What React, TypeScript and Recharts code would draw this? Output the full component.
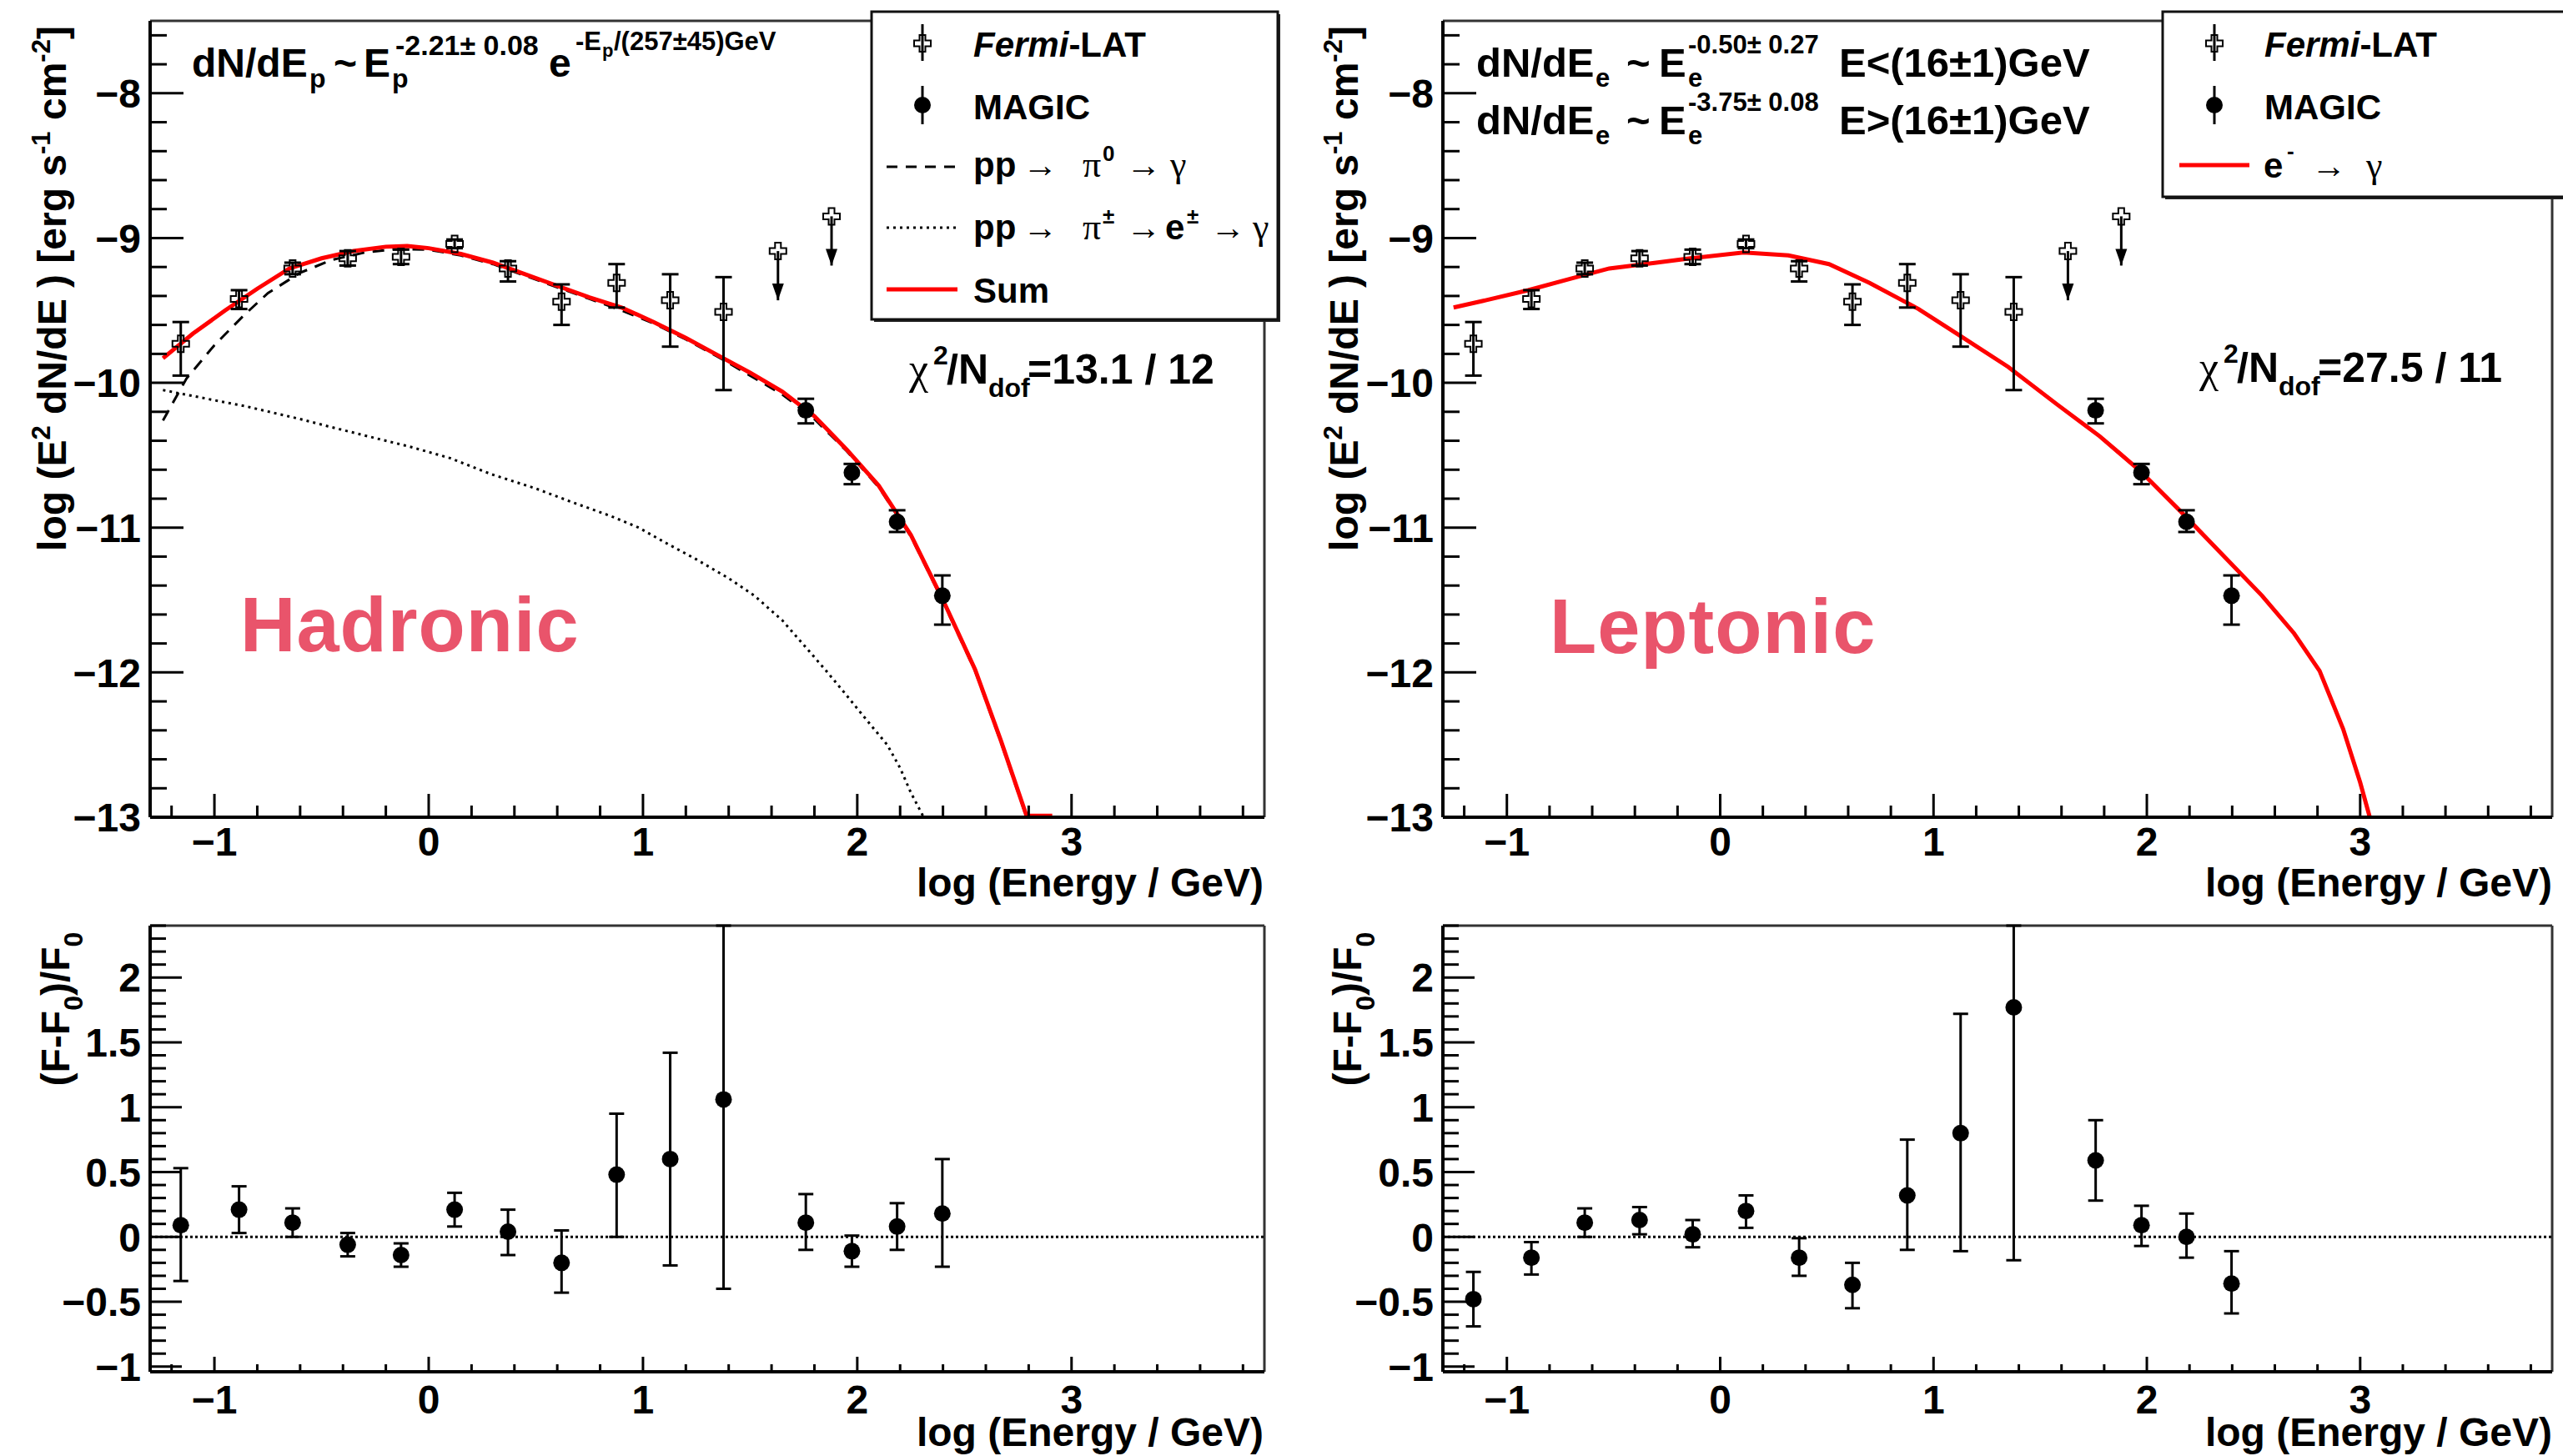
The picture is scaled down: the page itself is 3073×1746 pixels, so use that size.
import React from "react";
import { ComposedChart, Line, Scatter, XAxis, YAxis, ErrorBar, ReferenceLine } from "recharts";

const FONT = "'Liberation Sans', Arial, Helvetica, sans-serif";
const SYM = "'Liberation Serif', 'DejaVu Serif', serif";
const HL = "#e9546b";

// axis ticks
const X_TICKS = [-1.2, -1, -0.8, -0.6, -0.4, -0.2, 0, 0.2, 0.4, 0.6, 0.8, 1, 1.2, 1.4, 1.6, 1.8, 2, 2.2, 2.4, 2.6, 2.8, 3, 3.2, 3.4, 3.6, 3.8];
const SED_Y_TICKS = [-13, -12.8, -12.6, -12.4, -12.2, -12, -11.8, -11.6, -11.4, -11.2, -11, -10.8, -10.6, -10.4, -10.2, -10, -9.8, -9.6, -9.4, -9.2, -9, -8.8, -8.6, -8.4, -8.2, -8, -7.8, -7.6];
const RES_Y_TICKS = [-1, -0.9, -0.8, -0.7, -0.6, -0.5, -0.4, -0.3, -0.2, -0.1, 0, 0.1, 0.2, 0.3, 0.4, 0.5, 0.6, 0.7, 0.8, 0.9, 1, 1.1, 1.2, 1.3, 1.4, 1.5, 1.6, 1.7, 1.8, 1.9, 2, 2.1, 2.2, 2.3, 2.4];

// Fermi-LAT points (log E, log E2dN/dE, err down, err up)
const FERMI_X = [-1.157, -0.885, -0.635, -0.378, -0.129, 0.121, 0.37, 0.62, 0.877, 1.127, 1.376];
const FERMI_Y = [-9.73, -9.42, -9.21, -9.14, -9.13, -9.04, -9.21, -9.44, -9.31, -9.43, -9.51];
const FERMI_LO = [0.22, 0.07, 0.04, 0.05, 0.05, 0.03, 0.09, 0.16, 0.17, 0.32, 0.54];
const FERMI_HI = [0.15, 0.06, 0.04, 0.05, 0.05, 0.03, 0.05, 0.12, 0.13, 0.18, 0.24];

// Fermi-LAT upper limits
const UL_X = [1.63, 1.88];
const UL_Y = [-9.09, -8.85];
const UL_LEN = [0.34, 0.34];

// MAGIC points
const MAGIC_X = [1.76, 1.975, 2.186, 2.397];
const MAGIC_Y = [-10.19, -10.62, -10.96, -11.47];
const MAGIC_LO = [0.09, 0.08, 0.07, 0.2];
const MAGIC_HI = [0.08, 0.06, 0.08, 0.14];

// model curves
const SUM_HADRONIC = [
  [-1.24, -9.83], [-1.1, -9.66], [-0.95, -9.5], [-0.8, -9.35], [-0.65, -9.21], [-0.5, -9.14], [-0.35, -9.09],
  [-0.2, -9.06], [-0.1, -9.055], [0.0, -9.07], [0.15, -9.11], [0.3, -9.17], [0.45, -9.25], [0.6, -9.33],
  [0.75, -9.41], [0.9, -9.48], [1.05, -9.58], [1.2, -9.69], [1.35, -9.81], [1.5, -9.93], [1.65, -10.06],
  [1.8, -10.23], [1.95, -10.46], [2.1, -10.71], [2.25, -11.05], [2.4, -11.5], [2.55, -11.98], [2.67, -12.47],
  [2.79, -12.99], [2.91, -12.99],
];
const PI0_HADRONIC = [
  [-1.24, -10.26], [-1.13, -9.97], [-1.0, -9.74], [-0.86, -9.53], [-0.75, -9.38], [-0.6, -9.24], [-0.45, -9.15],
  [-0.3, -9.1], [-0.15, -9.075], [0.0, -9.08], [0.15, -9.12], [0.3, -9.18], [0.45, -9.26], [0.6, -9.34],
  [0.75, -9.42], [0.9, -9.5], [1.05, -9.59], [1.2, -9.7], [1.35, -9.82], [1.5, -9.95], [1.65, -10.08],
  [1.8, -10.25], [1.95, -10.47], [2.1, -10.72], [2.25, -11.06], [2.4, -11.51], [2.55, -11.99], [2.67, -12.48],
  [2.79, -13.0],
];
const PIPM_HADRONIC = [
  [-1.24, -10.05], [-1.0, -10.12], [-0.86, -10.16], [-0.6, -10.25], [-0.47, -10.3], [-0.2, -10.4], [-0.09, -10.44],
  [0.1, -10.52], [0.29, -10.63], [0.5, -10.73], [0.68, -10.83], [0.85, -10.92], [0.98, -11.0], [1.1, -11.1],
  [1.25, -11.22], [1.4, -11.35], [1.52, -11.47], [1.65, -11.64], [1.75, -11.81], [1.85, -11.98], [1.94, -12.14],
  [2.05, -12.34], [2.14, -12.5], [2.2, -12.66], [2.25, -12.83], [2.31, -13.0],
];
const LEPTONIC = [
  [-1.25, -9.48], [-1.1, -9.43], [-0.9, -9.36], [-0.7, -9.28], [-0.52, -9.21], [-0.3, -9.17], [-0.14, -9.14],
  [0.11, -9.1], [0.32, -9.12], [0.51, -9.18], [0.7, -9.31], [0.93, -9.49], [1.12, -9.67], [1.35, -9.89],
  [1.58, -10.15], [1.78, -10.37], [1.97, -10.61], [2.16, -10.89], [2.35, -11.18], [2.54, -11.47], [2.69, -11.73],
  [2.81, -11.99], [2.92, -12.39], [3.0, -12.76], [3.045, -13.0],
];

// residuals (F-F0)/F0
const RES_X = [...FERMI_X, ...MAGIC_X];
const RES_HAD_Y = [0.09, 0.21, 0.11, -0.06, -0.14, 0.21, 0.04, -0.2, 0.48, 0.6, 1.06, 0.11, -0.11, 0.08, 0.18];
const RES_HAD_LO = [0.43, 0.18, 0.11, 0.09, 0.09, 0.13, 0.18, 0.23, 0.48, 0.82, 1.46, 0.21, 0.12, 0.18, 0.41];
const RES_HAD_HI = [0.44, 0.18, 0.11, 0.09, 0.09, 0.13, 0.17, 0.25, 0.47, 0.82, 1.34, 0.22, 0.12, 0.18, 0.42];
const RES_LEP_Y = [-0.48, -0.16, 0.11, 0.13, 0.02, 0.2, -0.16, -0.37, 0.32, 0.8, 1.77, 0.59, 0.09, 0.0, -0.36];
const RES_LEP_LO = [0.21, 0.13, 0.11, 0.11, 0.1, 0.13, 0.14, 0.18, 0.42, 0.91, 1.95, 0.31, 0.16, 0.16, 0.23];
const RES_LEP_HI = [0.21, 0.12, 0.11, 0.1, 0.11, 0.12, 0.15, 0.17, 0.43, 0.92, 0.63, 0.31, 0.15, 0.18, 0.25];

const toPts = (arr: number[][]) => arr.map(([x, y]) => ({ x, y }));
const withErr = (xs: number[], ys: number[], lo: number[], hi: number[]) =>
  xs.map((x, i) => ({ x, y: ys[i], err: [lo[i], hi[i]] }));

const fermi = withErr(FERMI_X, FERMI_Y, FERMI_LO, FERMI_HI);
const magic = withErr(MAGIC_X, MAGIC_Y, MAGIC_LO, MAGIC_HI);
const ulims = UL_X.map((x, i) => ({ x, y: UL_Y[i], err: [UL_LEN[i], 0] }));
const ulTips = UL_X.map((x, i) => ({ x, y: UL_Y[i] - UL_LEN[i] }));

const fmt = (v: number) => (v < 0 ? "\u2212" + String(Math.abs(v)) : String(v));
const isInt = (v: number) => Math.abs(v - Math.round(v)) < 1e-6;
const isHalf = (v: number) => Math.abs(v * 2 - Math.round(v * 2)) < 1e-6;

const crossPath = (cx: number, cy: number, s: number, w: number) =>
  `M${cx - w},${cy - s}H${cx + w}V${cy - w}H${cx + s}V${cy + w}H${cx + w}V${cy + s}H${cx - w}V${cy + w}H${cx - s}V${cy - w}H${cx - w}Z`;

const OpenCross = (p: any) => <path d={crossPath(p.cx, p.cy, 10, 3.5)} fill="none" stroke="#000" strokeWidth={2} />;
const Dot = (p: any) => <circle cx={p.cx} cy={p.cy} r={10} fill="#000" />;
const ArrowHead = (p: any) => (
  <path d={`M${p.cx - 7},${p.cy - 20}L${p.cx + 7},${p.cy - 20}L${p.cx},${p.cy}Z`} fill="#000" />
);

function makeXTick(major: number, minor: number, dy: number) {
  return (p: any) => {
    const v = p.payload.value;
    const m = isInt(v);
    return (
      <g>
        <line x1={p.x} x2={p.x} y1={p.y} y2={p.y - (m ? major : minor)} stroke="#000" strokeWidth={3} />
        {m && (
          <text x={p.x} y={p.y + dy} textAnchor="middle" fontFamily={FONT} fontWeight="bold" fontSize={48} fill="#000">
            {fmt(v)}
          </text>
        )}
      </g>
    );
  };
}

function makeYTick(major: number, minor: number, isMajor: (v: number) => boolean) {
  return (p: any) => {
    const v = p.payload.value;
    const m = isMajor(v);
    return (
      <g>
        <line x1={p.x} x2={p.x + (m ? major : minor)} y1={p.y} y2={p.y} stroke="#000" strokeWidth={3} />
        {m && (
          <text x={p.x - 11} y={p.y} dy="0.36em" textAnchor="end" fontFamily={FONT} fontWeight="bold" fontSize={48} fill="#000">
            {fmt(v)}
          </text>
        )}
      </g>
    );
  };
}

const AXIS_LINE = { stroke: "#000", strokeWidth: 4 };

type Curve = { data: number[][]; stroke: string; width: number; dash?: string };

function SedPanel({ left, width, yw, mr, curves }: { left: number; width: number; yw: number; mr: number; curves: Curve[] }) {
  return (
    <div style={{ position: "absolute", left, top: 0 }}>
      <ComposedChart width={width} height={1090} margin={{ top: 25, right: mr, bottom: 0, left: 0 }}>
        <XAxis dataKey="x" type="number" domain={[-1.3, 3.9]} allowDataOverflow ticks={X_TICKS} interval={0}
          tickSize={0} tickMargin={0} height={110} axisLine={AXIS_LINE} tickLine={false} tick={makeXTick(28, 14, 46)} />
        <YAxis dataKey="y" type="number" domain={[-13, -7.5]} allowDataOverflow ticks={SED_Y_TICKS} interval={0}
          tickSize={0} tickMargin={0} width={yw} axisLine={AXIS_LINE} tickLine={false} tick={makeYTick(40, 20, isInt)} />
        <ReferenceLine y={-7.5} stroke="#333" strokeWidth={3} />
        <ReferenceLine x={3.9} stroke="#333" strokeWidth={3} />
        {curves.map((c, i) => (
          <Line key={i} data={toPts(c.data)} dataKey="y" type="linear" dot={false} activeDot={false}
            stroke={c.stroke} strokeWidth={c.width} strokeDasharray={c.dash} isAnimationActive={false} />
        ))}
        <Scatter data={fermi} shape={OpenCross} isAnimationActive={false}>
          <ErrorBar dataKey="err" direction="y" width={10} stroke="#000" strokeWidth={3} isAnimationActive={false} />
        </Scatter>
        <Scatter data={ulims} shape={OpenCross} isAnimationActive={false}>
          <ErrorBar dataKey="err" direction="y" width={0} stroke="#000" strokeWidth={3} isAnimationActive={false} />
        </Scatter>
        <Scatter data={ulTips} shape={ArrowHead} isAnimationActive={false} />
        <Scatter data={magic} shape={Dot} isAnimationActive={false}>
          <ErrorBar dataKey="err" direction="y" width={10} stroke="#000" strokeWidth={3} isAnimationActive={false} />
        </Scatter>
      </ComposedChart>
    </div>
  );
}

function ResPanel({ left, width, yw, mr, ys, lo, hi }: { left: number; width: number; yw: number; mr: number; ys: number[]; lo: number[]; hi: number[] }) {
  const pts = withErr(RES_X, ys, lo, hi);
  return (
    <div style={{ position: "absolute", left, top: 1100 }}>
      <ComposedChart width={width} height={646} margin={{ top: 10, right: mr, bottom: 0, left: 0 }}>
        <XAxis dataKey="x" type="number" domain={[-1.3, 3.9]} allowDataOverflow ticks={X_TICKS} interval={0}
          tickSize={0} tickMargin={0} height={101} axisLine={AXIS_LINE} tickLine={false} tick={makeXTick(18, 9, 50)} />
        <YAxis dataKey="y" type="number" domain={[-1.04, 2.4]} allowDataOverflow ticks={RES_Y_TICKS} interval={0}
          tickSize={0} tickMargin={0} width={yw} axisLine={AXIS_LINE} tickLine={false} tick={makeYTick(38, 19, isHalf)} />
        <ReferenceLine y={2.4} stroke="#333" strokeWidth={3} />
        <ReferenceLine x={3.9} stroke="#333" strokeWidth={3} />
        <ReferenceLine y={0} stroke="#000" strokeWidth={3} strokeDasharray="3 3" />
        <Scatter data={pts} shape={Dot} isAnimationActive={false}>
          <ErrorBar dataKey="err" direction="y" width={9} stroke="#000" strokeWidth={3} isAnimationActive={false} />
        </Scatter>
      </ComposedChart>
    </div>
  );
}

const B = { fontFamily: FONT, fontWeight: "bold" as const, fill: "#000" };
const S = { fontFamily: SYM, fontWeight: "normal" as const, fill: "#000" };

function LegendBox({ x, y, w, h }: { x: number; y: number; w: number; h: number }) {
  return (
    <g>
      <rect x={x + 3} y={y + 3} width={w} height={h} fill="#222" />
      <rect x={x} y={y} width={w} height={h} fill="#fff" stroke="#111" strokeWidth={3} />
    </g>
  );
}

function DataLegend({ mx, tx }: { mx: number; tx: number }) {
  return (
    <g>
      <line x1={mx} x2={mx} y1={29} y2={73} stroke="#000" strokeWidth={3} />
      <path d={crossPath(mx, 52, 10, 3.5)} fill="none" stroke="#000" strokeWidth={2} />
      <text x={tx} y={68} fontSize={42} {...B}>
        <tspan fontStyle="italic">Fermi</tspan>-LAT
      </text>
      <line x1={mx} x2={mx} y1={103} y2={149} stroke="#000" strokeWidth={3} />
      <circle cx={mx} cy={126} r={10} fill="#000" />
      <text x={tx} y={143} fontSize={42} {...B}>MAGIC</text>
    </g>
  );
}

function Overlay() {
  return (
    <svg width={3073} height={1746} style={{ position: "absolute", left: 0, top: 0, pointerEvents: "none" }}>
      {/* hadronic formula */}
      <text x={230} y={92} fontSize={48} {...B}>dN/dE</text>
      <text x={371} y={105} fontSize={32} {...B}>p</text>
      <text x={400} y={92} fontSize={48} {...B}>~</text>
      <text x={436} y={92} fontSize={48} {...B}>E</text>
      <text x={470} y={105} fontSize={32} {...B}>p</text>
      <text x={474} y={66} fontSize={34} {...B}>-2.21± 0.08</text>
      <text x={658} y={92} fontSize={48} {...B}>e</text>
      <text x={690} y={60} fontSize={31} {...B}>-E</text>
      <text x={722} y={68} fontSize={22} {...B}>p</text>
      <text x={736} y={60} fontSize={31} {...B}>/(257±45)GeV</text>

      {/* leptonic formulas */}
      {[0, 69].map((d, i) => (
        <g key={i}>
          <text x={1770} y={92 + d} fontSize={49} {...B}>dN/dE</text>
          <text x={1913} y={104 + d} fontSize={31} {...B}>e</text>
          <text x={1950} y={92 + d} fontSize={49} {...B}>~</text>
          <text x={1989} y={92 + d} fontSize={49} {...B}>E</text>
          <text x={2024} y={104 + d} fontSize={31} {...B}>e</text>
          <text x={2024} y={64 + d} fontSize={31} {...B}>{i === 0 ? "-0.50± 0.27" : "-3.75± 0.08"}</text>
          <text x={2205} y={92 + d} fontSize={49} {...B}>{i === 0 ? "E<(16±1)GeV" : "E>(16±1)GeV"}</text>
        </g>
      ))}

      {/* chi2 */}
      {[
        { x: 1090, y: 460, t: "=13.1 / 12" },
        { x: 2637, y: 458, t: "=27.5 / 11" },
      ].map((c, i) => (
        <g key={i}>
          <text x={c.x} y={c.y} fontSize={52} {...S}>χ</text>
          <text x={c.x + 29} y={c.y - 23} fontSize={32} {...B}>2</text>
          <text x={c.x + 45} y={c.y} fontSize={50} {...B}>/N</text>
          <text x={c.x + 95} y={c.y + 16} fontSize={32} {...B}>dof</text>
          <text x={c.x + 142} y={c.y} fontSize={50} {...B}>{c.t}</text>
        </g>
      ))}

      <text x={288} y={781} fontSize={92} fontFamily={FONT} fontWeight="bold" fill={HL} letterSpacing={1}>Hadronic</text>
      <text x={1858} y={783} fontSize={92} fontFamily={FONT} fontWeight="bold" fill={HL} letterSpacing={1}>Leptonic</text>

      {/* axis titles */}
      {[1515, 3060].map((x) => (
        <g key={x}>
          <text x={x} y={1075} textAnchor="end" fontSize={48} {...B}>log (Energy / GeV)</text>
          <text x={x} y={1734} textAnchor="end" fontSize={48} {...B}>log (Energy / GeV)</text>
        </g>
      ))}
      {[79, 1628].map((x) => (
        <text key={x} x={x} y={346} textAnchor="middle" transform={`rotate(-90 ${x} 346)`} fontSize={48} {...B}>
          log (E<tspan dy={-19} fontSize={31}>2</tspan>
          <tspan dy={19} fontSize={48}> dN/dE ) [erg s</tspan>
          <tspan dy={-19} fontSize={31}>-1</tspan>
          <tspan dy={19} fontSize={48}> cm</tspan>
          <tspan dy={-19} fontSize={31}>-2</tspan>
          <tspan dy={19} fontSize={48}>]</tspan>
        </text>
      ))}
      {[83, 1632].map((x) => (
        <text key={x} x={x} y={1210} textAnchor="middle" transform={`rotate(-90 ${x} 1210)`} fontSize={48} {...B}>
          (F-F<tspan dy={16} fontSize={32}>0</tspan>
          <tspan dy={-16} fontSize={48}>)/F</tspan>
          <tspan dy={16} fontSize={32}>0</tspan>
        </text>
      ))}

      {/* hadronic legend */}
      <LegendBox x={1045} y={14} w={487} h={369} />
      <DataLegend mx={1106} tx={1167} />
      <line x1={1063} x2={1148} y1={200} y2={200} stroke="#000" strokeWidth={3} strokeDasharray="13 10" />
      <text x={1167} y={212} fontSize={42} {...B}>pp</text>
      <text x={1226} y={212} fontSize={42} {...S}>→</text>
      <text x={1298} y={212} fontSize={44} {...S}>π</text>
      <text x={1322} y={193} fontSize={26} {...B}>0</text>
      <text x={1350} y={212} fontSize={42} {...S}>→</text>
      <text x={1403} y={212} fontSize={44} {...S}>γ</text>
      <line x1={1063} x2={1148} y1={273} y2={273} stroke="#000" strokeWidth={3} strokeDasharray="3 5" />
      <text x={1167} y={287} fontSize={42} {...B}>pp</text>
      <text x={1226} y={287} fontSize={42} {...S}>→</text>
      <text x={1298} y={287} fontSize={44} {...S}>π</text>
      <text x={1322} y={268} fontSize={26} {...B}>±</text>
      <text x={1350} y={287} fontSize={42} {...S}>→</text>
      <text x={1397} y={287} fontSize={42} {...B}>e</text>
      <text x={1423} y={268} fontSize={26} {...B}>±</text>
      <text x={1451} y={287} fontSize={42} {...S}>→</text>
      <text x={1502} y={287} fontSize={44} {...S}>γ</text>
      <line x1={1063} x2={1148} y1={347} y2={347} stroke="#f00" strokeWidth={5} />
      <text x={1167} y={363} fontSize={42} {...B}>Sum</text>

      {/* leptonic legend */}
      <LegendBox x={2593} y={14} w={490} h={222} />
      <DataLegend mx={2655} tx={2715} />
      <line x1={2613} x2={2697} y1={198} y2={198} stroke="#f00" strokeWidth={5} />
      <text x={2714} y={213} fontSize={42} {...B}>e</text>
      <text x={2742} y={190} fontSize={26} {...B}>-</text>
      <text x={2771} y={213} fontSize={42} {...S}>→</text>
      <text x={2837} y={213} fontSize={44} {...S}>γ</text>
    </svg>
  );
}

export default function App() {
  return (
    <div style={{ position: "absolute", left: 0, top: 0, width: 3073, height: 1746, background: "#fff", overflow: "hidden", fontFamily: FONT }}>
      <SedPanel
        left={0}
        width={1540}
        yw={180}
        mr={24}
        curves={[
          { data: PIPM_HADRONIC, stroke: "#000", width: 3, dash: "3 5" },
          { data: PI0_HADRONIC, stroke: "#000", width: 3, dash: "14 10" },
          { data: SUM_HADRONIC, stroke: "#f00", width: 5 },
        ]}
      />
      <SedPanel left={1540} width={1533} yw={190} mr={13} curves={[{ data: LEPTONIC, stroke: "#f00", width: 5 }]} />
      <ResPanel left={0} width={1540} yw={180} mr={24} ys={RES_HAD_Y} lo={RES_HAD_LO} hi={RES_HAD_HI} />
      <ResPanel left={1540} width={1533} yw={190} mr={13} ys={RES_LEP_Y} lo={RES_LEP_LO} hi={RES_LEP_HI} />
      <Overlay />
    </div>
  );
}
